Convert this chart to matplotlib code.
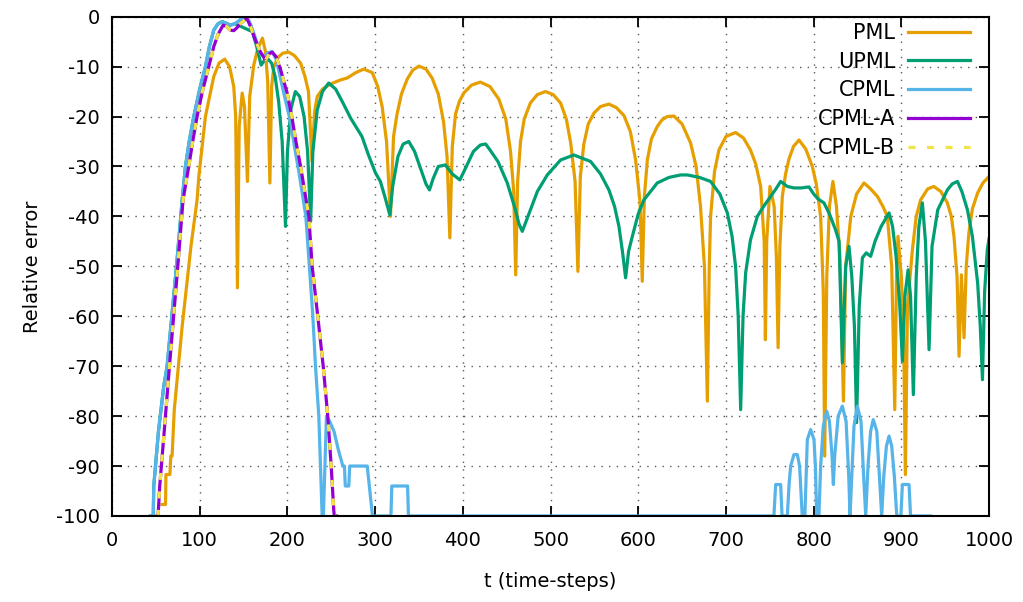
import matplotlib
matplotlib.use("Agg")
import matplotlib.pyplot as plt

# ---- data (t in time-steps, error in dB) ----
pml_t = [57, 61, 61.5, 66, 67, 68.5, 71, 80, 90, 97, 99, 106.5, 116, 122, 128.5, 134, 138.8, 141, 143, 145,
         148.4, 151, 154.4, 157, 161.6, 166, 171.5, 175, 177.5, 180, 182, 184.5, 190, 195, 201.5, 208, 215, 220,
         224, 228, 231, 234, 240, 249, 260, 268, 278, 287, 296.7, 303, 308, 313, 317.5, 321, 325, 330, 336.6,
         343, 350, 358, 365, 372, 378, 382, 385.2, 388, 391.7, 396, 401, 410, 420, 431, 441, 449, 454.4, 458,
         460.3, 462.5, 465.8, 470, 477, 485, 494.3, 503, 511.5, 518, 523, 528, 531.2, 534, 538, 543, 549.5, 557,
         566.6, 575, 583.7, 591, 597, 602, 604.6, 607, 610.4, 615, 621.7, 627, 633, 640.7, 650, 659.7, 666, 671,
         675.5, 678.8, 681, 682.5, 687, 692, 700, 711, 720, 728, 734, 739.6, 743.6, 745, 746.5, 750.2, 755,
         757.5, 759.5, 761.5, 764.3, 768, 771.9, 777, 783.3, 791, 798.5, 803, 808, 811, 812.6, 815, 818, 822,
         826, 830, 834, 836.5, 842.4, 849, 857.4, 865, 872.7, 879, 884, 889, 892.5, 894.5, 896.2, 900, 902.5,
         904.6, 907, 912.6, 917, 922, 930, 937, 945, 952.5, 957, 960, 963.5, 965.8, 968.5, 971.5, 974, 977, 981,
         987, 993, 1000]
pml_e = [-97.7, -97.7, -91.7, -91.7, -88, -88, -78.7, -62, -46, -36.7, -32, -20, -12, -9.3, -8.5, -10, -14, -20,
         -54.3, -22, -15.3, -18, -33, -16, -9.7, -6.5, -4.3, -7, -13, -33.3, -14, -10, -8, -7.3, -7.1, -7.8,
         -9.3, -12, -15, -29, -19, -16, -14.5, -13.5, -12.7, -12.3, -11.2, -10.5, -11.2, -14, -18, -25, -40,
         -24, -19.5, -15.5, -12.5, -10.7, -9.9, -10.5, -12.3, -15.5, -21, -28, -44.3, -26, -19.5, -17, -15.3,
         -13.7, -13.1, -14, -16.5, -20.5, -27, -35, -51.7, -33, -25, -20.5, -17.3, -15.6, -15, -15.6, -17.3,
         -20.5, -25.3, -33, -51, -32, -25.5, -21.5, -19.3, -18, -17.5, -18.2, -19.8, -23, -28.7, -37, -53, -36,
         -28.7, -24.5, -22, -20.7, -20, -19.9, -21.5, -25.3, -30, -38, -50, -77, -50, -40, -31, -26.7, -24,
         -23.2, -24.3, -26.7, -29.5, -34, -45, -64.7, -45, -34, -38, -48, -66.3, -46, -36, -31.5, -28.5, -26,
         -24.7, -26.5, -30, -33.5, -40, -55, -88, -52, -38, -33, -38, -48, -77, -50, -40, -35.5, -33.3, -34.5,
         -36, -38, -40, -50, -78.7, -52, -44, -52, -62, -91.7, -58, -46.7, -40, -36.7, -34.5, -34, -35, -37.3,
         -40, -44, -52, -68, -51.7, -64.3, -50, -43.3, -38.5, -35.3, -33.3, -32]

cpml_t = [43.8, 47, 47.6, 53, 59, 62.8, 73.5, 80, 83.7, 88, 93.2, 100, 106.5, 111, 116, 121, 125.6, 130, 135,
          140, 146, 153.6, 158, 163, 169, 174, 178, 182.6, 187, 191, 195.8, 203.5, 207.3, 213, 221, 225, 229,
          232, 235.8, 239.6, 241, 244.5, 248, 253, 258, 263.2, 265, 266, 270, 271, 291, 297, 318, 319, 337, 338,
          754.7, 756.7, 762.4, 764, 770, 772, 773.8, 777.6, 781.4, 784, 787, 790, 792.8, 796.6, 800.4, 802,
          803.5, 806, 808, 811, 814.9, 818, 821, 822.5, 824, 828, 832.7, 837, 840, 841.5, 843.5, 846, 849.9,
          854, 857, 859.4, 862, 865, 868, 872, 875, 877.6, 880, 883, 886, 889, 892, 894.8, 899.5, 901.2, 908.8,
          910.5, 933.5]
cpml_e = [-100, -100, -94, -83, -74, -70, -50, -36.7, -30, -25, -20, -14.5, -10, -6, -2.7, -1.4, -1, -1.3, -1.7,
          -1.4, -0.6, 0, -1.5, -4, -7.3, -8, -7.2, -7, -8.5, -11.5, -15.3, -21, -25.3, -31, -40, -50, -60, -70,
          -80, -100, -100, -80, -81, -83, -86.7, -90, -90, -94, -94, -90, -90, -100, -100, -94, -94, -100,
          -100, -93.7, -93.7, -100, -100, -93.7, -90, -87.7, -87.7, -90, -100, -100, -84.7, -82.7, -84.7, -90,
          -100, -100, -90, -82, -79, -81, -88, -93.7, -88, -80, -78, -81, -92, -100, -92, -82, -78,
          -81, -92, -100, -90, -83, -80.7, -83, -92, -100, -92, -86, -84, -86, -92, -100, -100, -93.7, -93.7,
          -100, -100]

# UPML hides under CPML during the main pulse, then splits off
upml_t = cpml_t[:20] + [160, 165, 170, 174, 178, 182, 186, 190, 194, 197.8, 200, 204, 209, 214, 219, 223, 226.5,
          229, 234, 240, 247, 255, 264, 272, 285, 292, 300.4, 306, 311, 316.8, 320, 326, 332, 338.4, 345, 352,
          358, 362, 366, 372, 380, 388, 396.6, 404, 412, 420, 426, 431, 440, 450.7, 460, 464, 467.8, 471, 477,
          485, 496.3, 511.5, 526.6, 545.7, 557, 566.6, 573, 578, 582, 585.6, 589, 593.3, 600, 606.5, 621.7, 635,
          648.3, 656, 670, 682.5, 693, 701.6, 707, 711, 714, 716.8, 719.5, 722.5, 728, 735.8, 743, 751, 757,
          762.4, 770, 777.6, 786, 794.7, 800, 805, 811.8, 818, 825, 829, 832.8, 836.5, 840.3, 843.5, 846.5, 849,
          852, 855.6, 860, 865, 870, 877, 886, 890, 894, 898, 901.2, 904, 907.7, 910.5, 913.7, 917, 920, 924,
          927.5, 931.6, 935, 941.5, 952.5, 958, 964, 969, 975.4, 981, 987, 990, 992.5, 995, 998, 1000]
upml_e = cpml_e[:20] + [-3, -6, -9.7, -8.7, -8.5, -9.3, -12, -17, -25, -42, -27, -18.5, -15, -16, -20, -27, -41,
          -27, -18.7, -15, -13.3, -14.5, -17.5, -20.3, -24, -27.5, -31.3, -33, -36, -39.7, -34, -28, -25.5, -25,
          -27, -30.5, -33.5, -34.7, -32.5, -30, -29.7, -31.5, -32.7, -30, -27, -25.7, -25.5, -26.7, -29, -33.3,
          -38.7, -41.5, -43, -41.5, -38.7, -35, -31.7, -28.7, -27.7, -29, -31.5, -34.7, -38, -42, -47, -52.3,
          -47, -44, -39.5, -36.7, -33.3, -32.2, -31.7, -31.7, -32.2, -33, -35.5, -39.3, -44, -50, -60, -78.7,
          -60, -51.3, -44.7, -40, -38, -36, -34.5, -33, -34, -34.3, -34.3, -34.1, -35.5, -36.5, -37.3, -39.5,
          -42.7, -45, -69.3, -50, -46, -52, -62, -81.3, -58, -48.3, -47.3, -48, -45, -42, -39.3, -42, -48, -57,
          -69, -56, -50.7, -56, -75.7, -52, -42, -37.3, -45, -66.7, -46, -38.7, -34.7, -33.5, -33, -35, -38.7,
          -44, -53.3, -62, -72.7, -55, -46.7, -44.5]

cpmla_t = [51.4, 52.5, 54.4, 60, 65.5, 75, 81, 87.5, 92, 97, 103, 110.3, 116, 121, 126.7, 131, 135, 138.8, 142,
           147, 153.6, 158, 163, 169, 175, 179, 182.6, 187, 192, 199.7, 205, 210, 215, 224.4, 228.2, 234.6,
           240.8, 246, 249.9, 252.9, 253.5, 256]
cpmla_e = [-100, -100, -94, -82, -70, -50, -36.7, -30, -25, -20, -15, -10, -6, -3.5, -1.7, -2, -2.7, -2.8, -2.3,
           -1.3, -0.3, -2, -4.5, -7, -8.7, -7.5, -7.1, -8, -10.5, -15.3, -20, -25.3, -30, -40, -50, -60, -70,
           -80, -90, -99, -100, -100]
# CPML-B lies exactly on top of CPML-A
cpmlb_t = cpmla_t
cpmlb_e = cpmla_e

labels = ["PML", "UPML", "CPML", "CPML-A", "CPML-B"]
colors = ["#E69F00", "#009E73", "#56B4E9", "#9400D3", "#F0E442"]

plt.rcParams["font.family"] = "DejaVu Sans"
plt.rcParams["axes.unicode_minus"] = False
fig = plt.figure(figsize=(10.23, 6.02), dpi=100)
ax = fig.add_axes([0.1095, 0.1429, 0.8573, 0.8294])

lw = 2.3
ax.plot(pml_t, pml_e, color=colors[0], lw=lw, label=labels[0])
ax.plot(upml_t, upml_e, color=colors[1], lw=lw, label=labels[1])
ax.plot(cpml_t, cpml_e, color=colors[2], lw=lw, label=labels[2])
ax.plot(cpmla_t, cpmla_e, color=colors[3], lw=lw, label=labels[3])
ax.plot(cpmlb_t, cpmlb_e, color=colors[4], lw=lw, dashes=(2.2, 3.6), label=labels[4])

ax.set_xlim(0, 1000)
ax.set_ylim(-100, 0)
ax.set_xticks(range(0, 1001, 100))
ax.set_yticks(range(-100, 1, 10))
ax.tick_params(direction="in", top=True, right=True, length=7, width=1.3, labelsize=14)
ax.tick_params(axis="x", pad=11)
ax.tick_params(axis="y", pad=9)
ax.grid(True, color="0.35", linestyle=(0, (1, 4.5)), linewidth=1)
for s in ax.spines.values():
    s.set_linewidth(1.5)

ax.set_xlabel("t (time-steps)", fontsize=14, labelpad=16)
ax.set_ylabel("Relative error", fontsize=14, labelpad=10)

ax.legend(loc="upper right", bbox_to_anchor=(1.0, 1.025), frameon=False, markerfirst=False,
          fontsize=15, handlelength=3.0, labelspacing=0.42, handletextpad=0.6)

plt.savefig("out.png", dpi=100)
